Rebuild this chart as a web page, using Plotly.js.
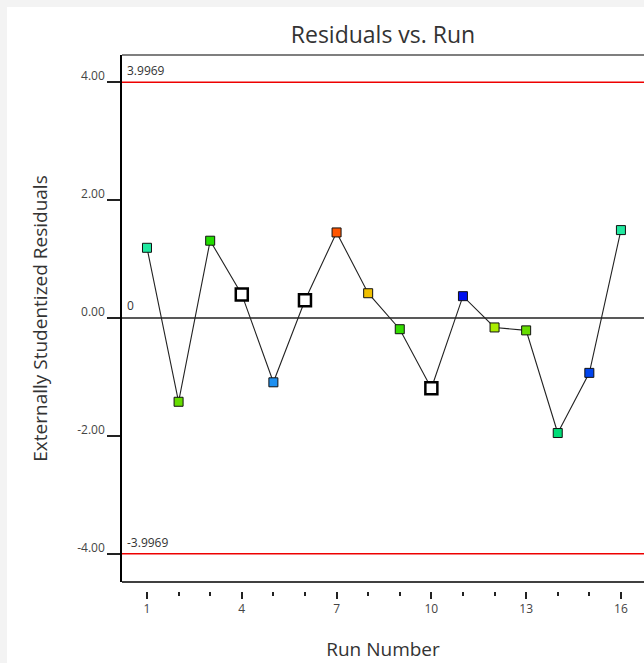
<!DOCTYPE html>
<html>
<head>
<meta charset="utf-8">
<script src="https://cdn.plot.ly/plotly-3.0.1.min.js"></script>
<style>
  html, body { margin: 0; padding: 0; background: #f3f3f3; overflow: hidden; width: 644px; height: 663px; }
  #chart { position: absolute; left: 7px; top: 7px; width: 637px; height: 656px; background: #ffffff; }
</style>
</head>
<body>
<div id="chart"></div>
<script>
// ---- data ----
const runNumbers = [1, 2, 3, 4, 5, 6, 7, 8, 9, 10, 11, 12, 13, 14, 15, 16];
const residuals = [1.19, -1.42, 1.31, 0.40, -1.09, 0.30, 1.45, 0.42, -0.19, -1.19, 0.37, -0.16, -0.21, -1.95, -0.93, 1.49];
const pointColors = ['#20e8a0', '#66dd00', '#22dd00', '#ffffff', '#1e90f0', '#ffffff', '#ff5500', '#f0c000',
                     '#33dd00', '#ffffff', '#0010ee', '#aaee00', '#66dd00', '#00dd77', '#0044ee', '#22e8a0'];
const highlighted = [false, false, false, true, false, true, false, false, false, true, false, false, false, false, false, false];
const upperLimit = 3.9969;
const lowerLimit = -3.9969;
const yTickValues = [-4, -2, 0, 2, 4];
const yTickLabels = ['-4.00', '-2.00', '0.00', '2.00', '4.00'];

const markerSizes = highlighted.map(h => h ? 12 : 9);
const markerLineWidths = highlighted.map(h => h ? 2.5 : 1);
const markerLineColors = highlighted.map(h => h ? '#000000' : '#111111');

const font = "'Open Sans', 'Noto Sans', sans-serif";

const trace = {
  x: runNumbers,
  y: residuals,
  type: 'scatter',
  mode: 'lines+markers',
  opacity: 1,
  line: { color: '#222222', width: 1.1 },
  marker: {
    symbol: 'square',
    opacity: 1,
    size: markerSizes,
    color: pointColors,
    line: { color: markerLineColors, width: markerLineWidths }
  },
  hoverinfo: 'x+y',
  showlegend: false
};

const layout = {
  width: 637,
  height: 656,
  margin: { l: 115, r: 0, t: 48, b: 72 },
  paper_bgcolor: '#ffffff',
  plot_bgcolor: '#ffffff',
  font: { family: font, color: '#333333', size: 12 },
  title: {
    text: 'Residuals vs. Run',
    font: { family: font, size: 23, color: '#333333' },
    x: 0.5, xref: 'paper', y: 0.958, yref: 'container', yanchor: 'middle'
  },
  xaxis: {
    range: [0.209, 16.73],
    anchor: 'free',
    position: 0,
    showline: false,
    showgrid: false,
    zeroline: false,
    tick0: 1,
    dtick: 3,
    ticks: 'outside',
    ticklen: 7,
    tickwidth: 1.5,
    tickcolor: '#222222',
    tickfont: { family: font, size: 12, color: '#444444' },
    minor: { dtick: 1, tick0: 1, ticks: 'outside', ticklen: 4, tickwidth: 1.5, tickcolor: '#222222', showgrid: false },
    title: { text: 'Run Number', font: { family: font, size: 19, color: '#333333' }, standoff: 26 }
  },
  yaxis: {
    domain: [0.0168, 1],
    range: [-4.475, 4.458],
    showline: true,
    linecolor: '#000000',
    linewidth: 1.5,
    showgrid: false,
    zeroline: false,
    tickvals: yTickValues,
    ticktext: yTickLabels,
    ticks: 'outside',
    ticklen: 13,
    tickwidth: 1.5,
    tickcolor: '#222222',
    ticklabelshift: -6,
    tickfont: { family: font, size: 12, color: '#444444' },
    title: { text: 'Externally Studentized Residuals', font: { family: font, size: 19, color: '#333333' }, standoff: 25 }
  },
  shapes: [
    { type: 'line', xref: 'x domain', yref: 'y', x0: 0, x1: 1, y0: upperLimit, y1: upperLimit, line: { color: '#ee0000', width: 1.5 } },
    { type: 'line', xref: 'x domain', yref: 'y', x0: 0, x1: 1, y0: lowerLimit, y1: lowerLimit, line: { color: '#ee0000', width: 1.5 } },
    { type: 'line', xref: 'x domain', yref: 'y', x0: 0, x1: 1, y0: 0, y1: 0, line: { color: '#222222', width: 1.5 } },
    { type: 'line', xref: 'x domain', yref: 'y domain', x0: 0, x1: 1, y0: 1, y1: 1, line: { color: '#555555', width: 1.5 } },
    { type: 'line', xref: 'x domain', yref: 'y domain', x0: 0, x1: 1, y0: 0, y1: 0, line: { color: '#000000', width: 1.5 } }
  ],
  annotations: [
    { xref: 'x domain', yref: 'y', x: 0, y: upperLimit, text: String(upperLimit), showarrow: false,
      xanchor: 'left', yanchor: 'bottom', xshift: 3, yshift: 1, font: { family: font, size: 12, color: '#333333' } },
    { xref: 'x domain', yref: 'y', x: 0, y: lowerLimit, text: String(lowerLimit), showarrow: false,
      xanchor: 'left', yanchor: 'bottom', xshift: 3, yshift: 1, font: { family: font, size: 12, color: '#333333' } },
    { xref: 'x domain', yref: 'y', x: 0, y: 0, text: '0', showarrow: false,
      xanchor: 'left', yanchor: 'bottom', xshift: 3, yshift: 2, font: { family: font, size: 12, color: '#333333' } }
  ]
};

Plotly.newPlot('chart', [trace], layout, { displayModeBar: false });
</script>
</body>
</html>
